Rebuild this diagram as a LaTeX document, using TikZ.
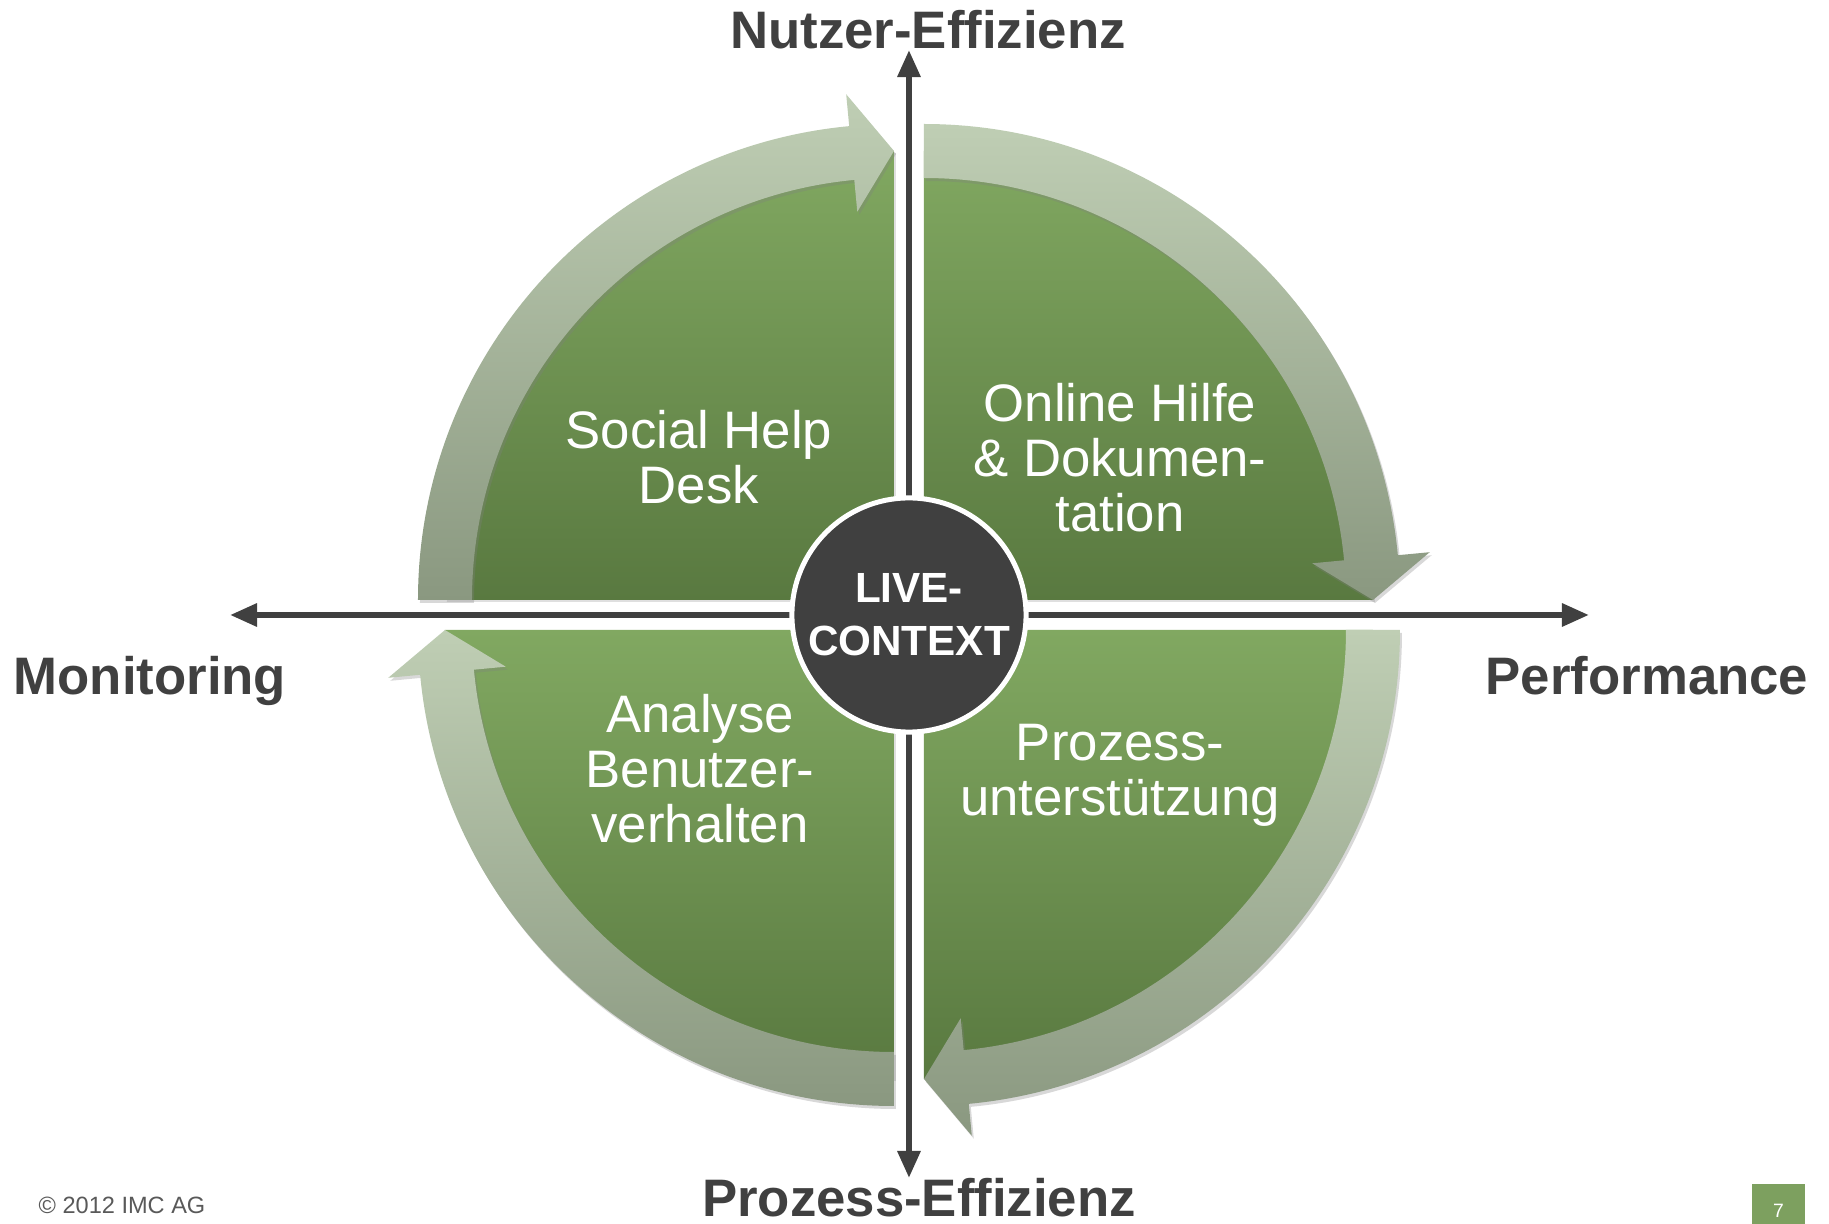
\documentclass[tikz,border=0pt]{standalone}
\usepackage{fontspec}
\setmainfont{Liberation Sans}
\usepackage{tikz}
\usetikzlibrary{arrows.meta, positioning, shadows}
\usepackage{xcolor}
\definecolor{axisgray}{RGB}{64,64,64}
\definecolor{leaftop}{RGB}{129,168,97}
\definecolor{leafbot}{RGB}{89,121,64}
\definecolor{bandtop}{RGB}{191,206,180}
\definecolor{bandbot}{RGB}{138,152,128}
\definecolor{footgray}{RGB}{89,89,89}
\definecolor{pagegreen}{RGB}{125,160,95}
\tikzset{
    quadrant/.style={top color=leaftop, bottom color=leafbot, drop shadow={shadow xshift=0.02cm, shadow yshift=-0.02cm, opacity=0.25}},
    band/.style={top color=bandtop, bottom color=bandbot, drop shadow={shadow xshift=0.02cm, shadow yshift=-0.03cm, opacity=0.3}},
    axis/.style={line width=0.06cm, draw=axisgray, <->, >={Triangle[length=0.27cm, width=0.22cm]}},
    axislabel/.style={text=axisgray, inner sep=0pt, font=\fontsize{15}{18}\selectfont\bfseries},
    segtext/.style={text=white, align=center, inner sep=0pt, font=\fontsize{15}{15.65}\selectfont},
    hub/.style={circle, fill=axisgray, draw=white, line width=0.05cm, minimum size=2.34cm, inner sep=0pt, text=white, align=center, font=\fontsize{12}{15}\selectfont\bfseries},
    footer/.style={text=footgray, inner sep=0pt, font=\fontsize{6.7}{8}\selectfont},
    pagebox/.style={rectangle, fill=pagegreen, minimum width=0.53cm, minimum height=0.40cm, inner sep=0pt, text height=0.26cm, text depth=0pt, text=white, font=\fontsize{5.5}{6}\selectfont}
}

\begin{document}
\begin{tikzpicture}[x=0.01cm, y=0.01cm]
    \useasboundingbox (-909,-609) rectangle (920,615);
    \fill[white] (-909,-609) rectangle (920,615);
    % Axes
    \coordinate (ax_left) at (-679,0);
    \coordinate (ax_right) at (680,0);
    \coordinate (ax_top) at (0,565);
    \coordinate (ax_bottom) at (0,-563);
    \draw [axis] (ax_left) -- (ax_right);
    \draw [axis] (ax_bottom) -- (ax_top);
    % Upper left
    \begin{scope}[shift={(-15,15)}]
        \path [quadrant] (0,0) -- (180:449) arc[start angle=180, end angle=90, radius=449] -- cycle;
        \path [band] (180:422) arc[start angle=180, end angle=95.4, radius=422] -- (95.4:390) -- (90:449) -- (95.4:508) -- (95.4:476) arc[start angle=95.4, end angle=180, radius=476] -- cycle;
    \end{scope}
    % Upper right
    \begin{scope}[shift={(15,15)}]
        \path [quadrant] (0,0) -- (90:449) arc[start angle=90, end angle=0, radius=449] -- cycle;
        \path [band] (90:422) arc[start angle=90, end angle=5.4, radius=422] -- (5.4:390) -- (0:449) -- (5.4:508) -- (5.4:476) arc[start angle=5.4, end angle=90, radius=476] -- cycle;
    \end{scope}
    % Lower right
    \begin{scope}[shift={(15,-15)}]
        \path [quadrant] (0,0) -- (0:449) arc[start angle=0, end angle=-90, radius=449] -- cycle;
        \path [band] (0:422) arc[start angle=0, end angle=-84.6, radius=422] -- (-84.6:390) -- (-90:449) -- (-84.6:508) -- (-84.6:476) arc[start angle=-84.6, end angle=0, radius=476] -- cycle;
    \end{scope}
    % Lower left
    \begin{scope}[shift={(-15,-15)}]
        \path [quadrant] (0,0) -- (270:449) arc[start angle=270, end angle=180, radius=449] -- cycle;
        \path [band] (270:422) arc[start angle=270, end angle=185.4, radius=422] -- (185.4:390) -- (180:449) -- (185.4:508) -- (185.4:476) arc[start angle=185.4, end angle=270, radius=476] -- cycle;
    \end{scope}
    % Quadrant texts
    \node (social) [segtext] at (-210,158) {Social Help\\Desk};
    \node (online) [segtext] at (211,157) {Online Hilfe\\\& Dokumen-\\tation};
    \node (analyse) [segtext] at (-209,-154) {Analyse\\Benutzer-\\verhalten};
    \node (prozess) [segtext] at (211,-160) {Prozess-\\unterstützung};
    % Center
    \node (live) [hub] at (0,0) {LIVE-\\CONTEXT};
    % Axis labels
    \node (nutzer) [axislabel, anchor=base] at (19,566) {Nutzer-Effizienz};
    \node (prozesseff) [axislabel, anchor=base] at (10,-601) {Prozess-Effizienz};
    \node (monitoring) [axislabel, anchor=base west] at (-896,-80) {Monitoring};
    \node (performance) [axislabel, anchor=base east] at (900,-80) {Performance};
    % Footer
    \node (copyright) [footer, anchor=base west] at (-871,-598) {© 2012 IMC AG};
    \node (pagenum) [pagebox] at (869.5,-589) {7};
\end{tikzpicture}
\end{document}
